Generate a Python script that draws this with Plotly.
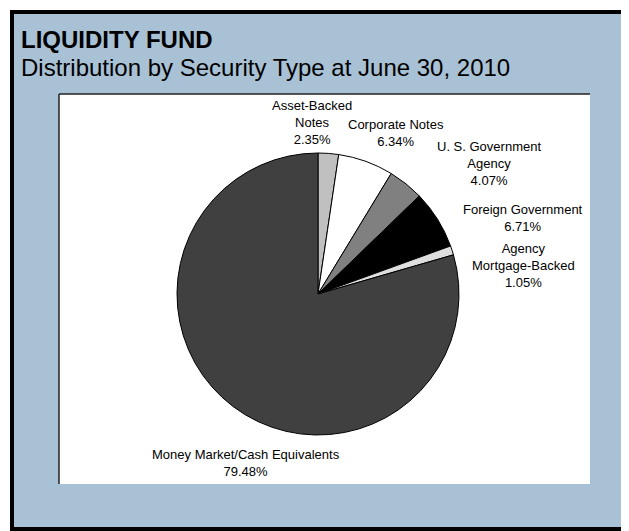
import plotly.graph_objects as go

# the page body adds an 8px margin, so the figure is sized to what's left
OFF = 8
W, H = 629 - OFF, 531 - OFF

# data
security_types = ["Asset-Backed Notes", "Corporate Notes", "U. S. Government Agency",
                  "Foreign Government", "Agency Mortgage-Backed",
                  "Money Market/Cash Equivalents"]
label_text = ["Asset-Backed<br>Notes", "Corporate Notes", "U. S. Government<br>Agency",
              "Foreign Government", "Agency<br>Mortgage-Backed",
              "Money Market/Cash Equivalents"]
percents = [2.35, 6.34, 4.07, 6.71, 1.05, 79.48]
slice_colors = ["#C0C0C0", "#FFFFFF", "#808080", "#000000", "#DEDEDE", "#404040"]

# label positions in window pixels (centre of text block)
label_pos = [(312, 122), (396, 133), (489, 163), (523, 218), (523, 265), (246, 463)]


def px(x):
    return (x - OFF) / W


def py(y):
    return 1 - (y - OFF) / H


cx, cy, r = 318, 294, 141

fig = go.Figure(go.Pie(
    labels=security_types,
    values=percents,
    sort=False,
    direction="clockwise",
    rotation=0,
    marker=dict(colors=slice_colors, line=dict(color="#000000", width=1)),
    textinfo="none",
    hoverinfo="label+percent",
    showlegend=False,
    domain=dict(x=[px(cx - r), px(cx + r)], y=[py(cy + r), py(cy - r)]),
))

shapes = [
    # outer panel
    dict(type="rect", xref="paper", yref="paper", x0=px(12), x1=px(625), y0=py(529), y1=py(12),
         fillcolor="#A8C1D5", line=dict(color="#000000", width=4), layer="below"),
    # white chart box
    dict(type="rect", xref="paper", yref="paper", x0=px(59), x1=px(590), y0=py(484), y1=py(94),
         fillcolor="#FFFFFF", line=dict(width=0), layer="below"),
    dict(type="line", xref="paper", yref="paper", x0=px(59), x1=px(590), y0=py(94), y1=py(94),
         line=dict(color="#222222", width=1.5), layer="below"),
    dict(type="line", xref="paper", yref="paper", x0=px(59), x1=px(59), y0=py(484), y1=py(94),
         line=dict(color="#222222", width=1.5), layer="below"),
]

annotations = [
    dict(text="<b>LIQUIDITY FUND</b>", x=px(19), y=py(39), xref="paper", yref="paper",
         xanchor="left", yanchor="middle", showarrow=False,
         font=dict(family="Liberation Sans, Arial", size=24, color="#000000")),
    dict(text="Distribution by Security Type at June 30, 2010", x=px(19), y=py(68),
         xref="paper", yref="paper", xanchor="left", yanchor="middle", showarrow=False,
         font=dict(family="Liberation Sans, Arial", size=24, color="#000000")),
]
for txt, val, (lx, ly) in zip(label_text, percents, label_pos):
    annotations.append(dict(
        text=f"{txt}<br>{val:.2f}%", x=px(lx), y=py(ly), xref="paper", yref="paper",
        xanchor="center", yanchor="middle", align="center", showarrow=False,
        font=dict(family="Liberation Sans, Arial", size=13, color="#000000")))

fig.update_layout(
    width=W, height=H,
    margin=dict(l=0, r=0, t=0, b=0),
    paper_bgcolor="#FFFFFF",
    plot_bgcolor="#FFFFFF",
    shapes=shapes,
    annotations=annotations,
)

fig.write_html("out.html")
